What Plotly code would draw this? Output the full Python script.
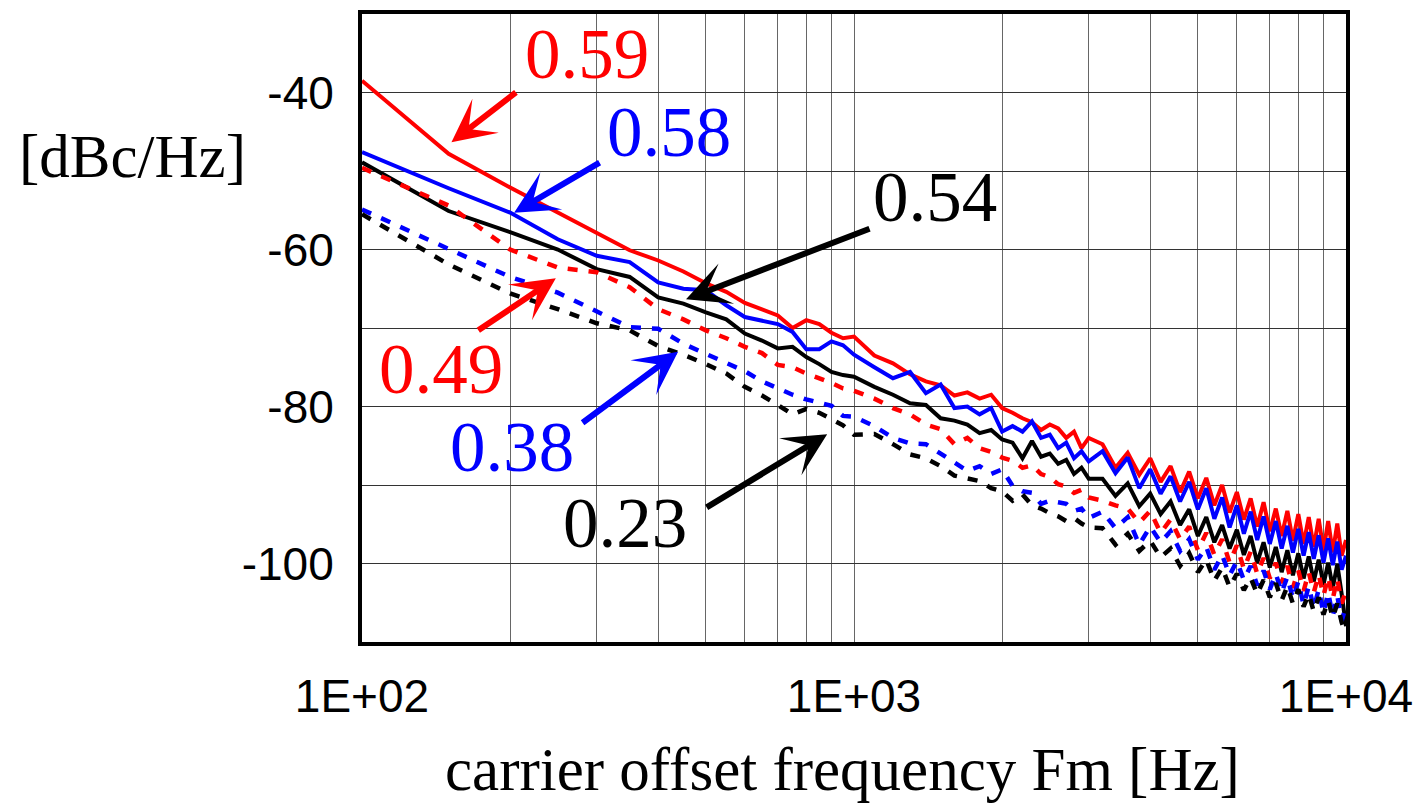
import plotly.graph_objects as go

# ---------------- data ----------------
freq = [100, 150, 200, 250, 300, 350, 400, 450, 500, 550, 600, 650, 700, 750, 800, 850, 900, 950, 1000,
        1100, 1200, 1300, 1400, 1500, 1600, 1700, 1800, 1900, 2000, 2100, 2200, 2300, 2400, 2500, 2600,
        2700, 2800, 2900, 3000,
        3200, 3400, 3600, 3800, 4000, 4200, 4400, 4600, 4800, 5000, 5200, 5400, 5600, 5800, 6000, 6200,
        6400, 6600, 6800, 7000, 7200, 7400, 7600, 7800, 8000, 8200, 8400, 8600, 8800, 9000, 9200, 9400,
        9600, 9800, 10000]

red_059 = [-38.5, -47.8, -52.1, -55.3, -58.0, -60.1, -61.4, -62.8, -64.3, -65.4, -66.8, -67.6, -68.4, -70.0,
           -69.0, -69.5, -70.6, -71.3, -71.1,
           -73.5, -74.5, -75.9, -76.8, -77.3, -78.6, -78.2, -79.0, -78.5, -80.2, -80.8, -81.5, -82.0, -83.0,
           -82.3, -82.8, -84.0, -83.2, -85.3, -84.0,
           -84.8, -87.8, -85.9, -88.7, -86.6, -89.6, -87.6, -90.9, -88.3, -91.7, -89.1, -92.6, -90.0, -93.5,
           -90.9, -94.4, -91.7, -95.3, -92.2, -95.9, -93.0, -96.5, -93.3, -97.1, -93.7, -97.5, -94.1, -97.9,
           -94.3, -98.3, -94.6, -98.6, -94.9, -99.0, -97.0]

blue_058 = [-47.6, -52.2, -55.3, -58.7, -60.8, -61.6, -64.2, -65.0, -65.2, -67.1, -68.6, -69.0, -69.5, -70.5,
            -72.7, -72.7, -71.7, -72.2, -73.4,
            -75.0, -76.4, -75.6, -78.3, -77.2, -80.2, -80.0, -81.0, -80.2, -83.2, -82.5, -83.2, -81.9, -84.0,
            -83.6, -85.3, -84.6, -86.6, -85.7, -87.0,
            -85.7, -88.5, -86.5, -90.4, -88.0, -91.1, -88.9, -92.1, -89.6, -93.1, -90.4, -94.3, -91.6, -95.4,
            -92.6, -96.2, -93.4, -97.0, -94.0, -97.5, -94.6, -98.1, -95.2, -98.6, -95.6, -99.0, -96.0, -99.4,
            -96.4, -99.9, -96.8, -100.2, -97.2, -100.8, -99.0]

black_054 = [-48.9, -55.1, -57.8, -60.0, -62.5, -63.5, -66.1, -66.9, -68.0, -68.9, -70.7, -71.6, -72.6, -72.4,
             -73.7, -74.6, -75.6, -76.0, -76.2,
             -77.5, -78.5, -79.6, -79.8, -81.5, -81.8, -82.3, -83.4, -83.0, -84.2, -84.6, -86.6, -84.4, -86.4,
             -86.0, -87.3, -86.8, -88.6, -87.8, -89.2,
             -89.2, -91.4, -89.8, -92.7, -91.1, -93.7, -92.1, -95.1, -93.1, -96.5, -94.1, -97.3, -95.1, -98.1,
             -95.7, -98.9, -96.5, -99.9, -97.3, -100.5, -97.9, -101.1, -98.3, -101.5, -98.7, -101.9, -99.1,
             -102.3, -99.5, -102.7, -99.9, -103.1, -100.1, -103.9, -108.0]

red_049 = [-49.6, -54.4, -60.0, -62.3, -62.9, -64.8, -67.6, -68.9, -70.3, -71.3, -72.4, -73.2, -74.7, -75.0,
           -75.8, -76.4, -77.0, -77.7, -78.0,
           -79.0, -80.2, -81.0, -82.3, -82.9, -84.8, -84.0, -85.3, -85.8, -86.5, -86.9, -87.8, -87.5, -88.6,
           -89.0, -89.9, -90.2, -91.0, -90.6, -91.6,
           -92.0, -92.6, -93.0, -94.8, -93.3, -96.1, -94.4, -96.9, -95.3, -98.3, -96.1, -98.9, -96.9, -99.9,
           -97.7, -100.7, -98.5, -101.3, -99.3, -101.9, -99.9, -102.5, -100.3, -103.1, -100.9, -103.5,
           -101.1, -103.7, -101.4, -104.1, -101.7, -104.5, -101.9, -105.1, -103.5]

blue_038 = [-54.9, -60.0, -63.5, -65.5, -67.8, -69.9, -70.1, -72.0, -73.3, -74.5, -75.5, -76.8, -77.7, -78.5,
            -79.1, -79.5, -79.9, -81.2, -81.3,
            -82.5, -84.0, -84.7, -84.8, -86.0, -87.2, -88.2, -87.6, -88.6, -88.0, -90.1, -90.8, -91.0, -92.4,
            -92.0, -92.2, -92.4, -93.3, -93.0, -94.2,
            -93.4, -95.5, -94.1, -97.6, -95.3, -97.3, -95.9, -98.4, -96.9, -99.5, -97.9, -100.8, -98.9, -101.5,
            -99.7, -102.1, -100.3, -102.8, -100.9, -103.3, -101.3, -103.7, -101.7, -104.5, -102.3, -105.3,
            -102.9, -105.7, -103.3, -106.3, -103.7, -106.7, -104.1, -107.3, -105.4]

black_023 = [-55.5, -61.9, -65.6, -67.6, -69.4, -70.3, -72.3, -73.4, -74.6, -75.8, -77.5, -78.6, -79.8, -81.0,
             -80.3, -80.8, -81.6, -82.4, -83.6,
             -83.5, -84.8, -86.1, -86.6, -87.6, -88.8, -89.2, -89.5, -90.4, -90.8, -92.0, -91.2, -92.6, -93.0,
             -93.6, -94.0, -94.6, -94.2, -94.9, -95.4,
             -95.5, -97.6, -96.2, -98.4, -97.1, -99.2, -98.1, -100.3, -98.7, -101.1, -99.5, -102.2, -100.5,
             -103.0, -101.3, -103.4, -101.8, -103.9, -102.1, -104.3, -102.5, -104.7, -102.9, -105.1, -103.3,
             -105.5, -103.9, -106.1, -104.3, -106.5, -104.7, -106.9, -105.1, -107.5, -109.0]

x_grid = [100, 200, 300, 400, 500, 600, 700, 800, 900, 1000, 2000, 3000, 4000, 5000, 6000, 7000, 8000,
          9000, 10000]
x_labels = ["1E+02", "", "", "", "", "", "", "", "", "1E+03", "", "", "", "", "", "", "", "", "1E+04"]
y_grid = [-110, -100, -90, -80, -70, -60, -50, -40, -30]
y_labels = ["", "-100", "", "-80", "", "-60", "", "-40", ""]

series_names = ["0.59", "0.58", "0.54", "0.49", "0.38", "0.23"]

# ---------------- figure ----------------
W, H = 1423, 806
L, R, T, B = 362, 71, 10, 164
X0, X1 = 2.0, 4.0
Y0, Y1 = -110.0, -30.0

solid_w = 4
dash_w = 4.5
dash_pat = "10px,11px"

traces = [
    (red_059, "#ff0000", "solid", solid_w),
    (blue_058, "#0000ff", "solid", solid_w),
    (black_054, "#000000", "solid", solid_w),
    (red_049, "#ff0000", dash_pat, dash_w),
    (blue_038, "#0000ff", dash_pat, dash_w),
    (black_023, "#000000", dash_pat, dash_w),
]

fig = go.Figure()
for (vals, col, dash, w), name in zip(traces, series_names):
    fig.add_trace(go.Scatter(x=freq, y=vals, mode="lines", name=name,
                             line=dict(color=col, width=w, dash=dash)))


def px_to_data(px, py):
    pw = W - L - R
    ph = H - T - B
    lx = X0 + (px - L) / pw * (X1 - X0)
    ly = Y1 - (py - T) / ph * (Y1 - Y0)
    return lx, ly


serif = "Liberation Serif, Times New Roman, serif"
sans = "Liberation Sans, Arial, sans-serif"

# label texts: (text, color, center px, center py)
labels = [
    ("0.59", "#ff0000", 588, 57),
    ("0.58", "#0000ff", 671, 136),
    ("0.54", "#000000", 938, 201),
    ("0.49", "#ff0000", 441, 374),
    ("0.38", "#0000ff", 513, 453),
    ("0.23", "#000000", 627, 529),
]
# arrows: (color, tip px, tip py, tail px, tail py)
arrows = [
    ("#ff0000", 452, 139, 518, 88),
    ("#0000ff", 515, 210, 602, 159),
    ("#000000", 688, 297, 873, 226),
    ("#ff0000", 557, 276, 478, 329),
    ("#0000ff", 680, 350, 583, 422),
    ("#000000", 830, 433, 708, 507),
]

annotations = []
for txt, col, cx, cy in labels:
    lx, ly = px_to_data(cx, cy)
    annotations.append(dict(x=lx, y=ly, xref="x", yref="y", text=txt, showarrow=False,
                            font=dict(family=serif, size=71, color=col),
                            xanchor="center", yanchor="middle", yshift=7))
for col, tx, ty, sx, sy in arrows:
    lx, ly = px_to_data(tx, ty)
    annotations.append(dict(x=lx, y=ly, xref="x", yref="y", text="", showarrow=True,
                            ax=sx - tx, ay=sy - ty, axref="pixel", ayref="pixel",
                            arrowhead=3, arrowsize=1.2, arrowwidth=6, arrowcolor=col,
                            standoff=0, startstandoff=0))

pw = W - L - R
ph = H - T - B
# axis titles placed by pixel centre (converted to paper fractions)
for txt, cx, cy in [("[dBc/Hz]", 131, 153), ("carrier offset frequency Fm [Hz]", 845, 770)]:
    annotations.append(dict(x=(cx - L) / pw, y=(H - cy - B) / ph, xref="paper", yref="paper", text=txt,
                            showarrow=False, font=dict(family=serif, size=61, color="black"),
                            xanchor="center", yanchor="middle"))

fig.update_layout(
    width=W, height=H,
    margin=dict(l=L, r=R, t=T, b=B, pad=0),
    paper_bgcolor="white", plot_bgcolor="white",
    showlegend=False,
    annotations=annotations,
    xaxis=dict(type="log", range=[X0, X1], tickmode="array", tickvals=x_grid, ticktext=x_labels,
               showgrid=True, gridcolor="#666666", gridwidth=1.4, zeroline=False,
               showline=True, linecolor="black", linewidth=4, mirror=True, ticks="",
               tickfont=dict(family=sans, size=46, color="black"), ticklabelstandoff=11),
    yaxis=dict(range=[Y0, Y1], tickmode="array", tickvals=y_grid, ticktext=y_labels,
               showgrid=True, gridcolor="#333333", gridwidth=1.2, zeroline=False,
               showline=True, linecolor="black", linewidth=4, mirror=True, ticks="",
               tickfont=dict(family=sans, size=46, color="black"), ticklabelstandoff=15),
)

fig.write_html("out.html", config={"displayModeBar": False},
               post_script="document.body.style.margin='0';document.body.style.overflow='hidden';")
